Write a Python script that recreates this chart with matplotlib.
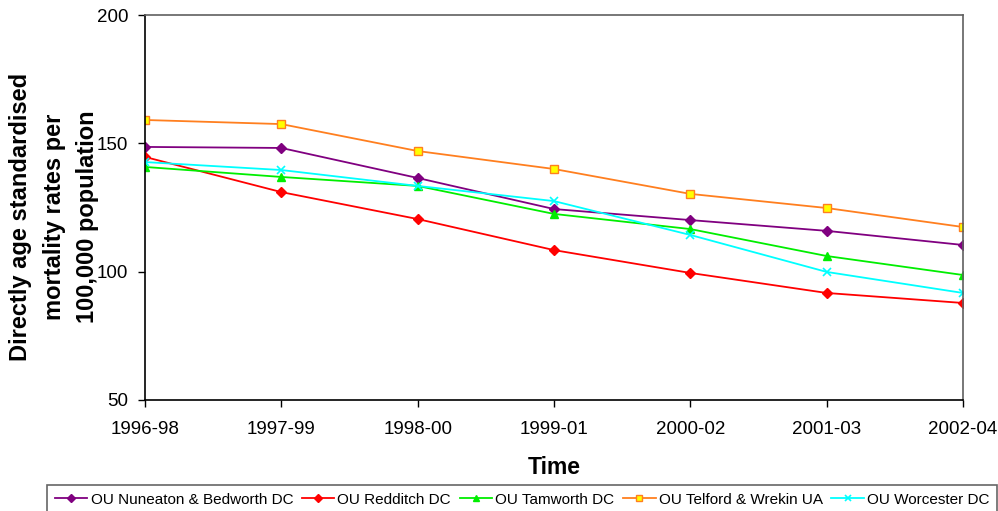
import matplotlib
matplotlib.use("Agg")
import matplotlib.pyplot as plt

plt.rcParams['font.family'] = ['Liberation Sans', 'DejaVu Sans']

periods = ["1996-98", "1997-99", "1998-00", "1999-01", "2000-02", "2001-03", "2002-04"]
nuneaton = [148.6, 148.2, 136.5, 124.4, 120.1, 115.9, 110.4]
redditch = [144.7, 131.0, 120.5, 108.4, 99.5, 91.7, 87.8]
tamworth = [140.8, 136.9, 133.4, 122.5, 116.6, 106.1, 98.7]
telford = [159.1, 157.5, 147.0, 140.0, 130.3, 124.8, 117.4]
worcester = [142.7, 139.6, 133.4, 127.5, 114.3, 99.9, 91.7]

series = [
    ("OU Nuneaton & Bedworth DC", nuneaton, dict(color="#800080", marker="D", ms=5, mfc="#800080", mec="#800080")),
    ("OU Redditch DC", redditch, dict(color="#ff0000", marker="D", ms=5, mfc="#ff0000", mec="#ff0000")),
    ("OU Tamworth DC", tamworth, dict(color="#00ee00", marker="^", ms=6, mfc="#00ee00", mec="#00ee00")),
    ("OU Telford & Wrekin UA", telford, dict(color="#ff7f1f", marker="s", ms=5.5, mfc="#ffff00", mec="#ff7f1f", mew=1.0)),
    ("OU Worcester DC", worcester, dict(color="#00ffff", marker="x", ms=6, mec="#00ffff", mew=1.2)),
]

fig = plt.figure(figsize=(9.98, 5.11), dpi=100)
ax = fig.add_axes([145/998, 1 - 400/511, (963-145)/998, (400-15)/511])

x = list(range(len(periods)))
handles = []
for name, vals, st in series:
    h, = ax.plot(x, vals, lw=1.3, label=name, **st)
    handles.append(h)

ax.set_xlim(0, len(periods) - 1)
ax.set_ylim(50, 200)
ax.set_yticks([50, 100, 150, 200])
ax.set_xticks(x)
ax.set_xticklabels(periods)
ax.tick_params(axis='both', labelsize=13.5, direction='out', length=5, width=1, colors='black')
ax.tick_params(axis='x', pad=10)
ax.tick_params(axis='y', pad=7)
for s in ['top', 'right']:
    ax.spines[s].set_color('#606060')
    ax.spines[s].set_linewidth(1.2)
for s in ['left', 'bottom']:
    ax.spines[s].set_color('black')
    ax.spines[s].set_linewidth(1.2)

ax.set_xlabel("Time", fontsize=16.5, fontweight='bold', labelpad=13)
ax.set_ylabel("Directly age standardised\nmortality rates per\n100,000 population",
              fontsize=17, fontweight='bold', linespacing=1.6, va='center', ha='center')
ax.yaxis.set_label_coords((54 - 145) / 818, (400 - 217) / 385)

leg = fig.legend(handles=handles, loc='upper left', bbox_to_anchor=(47/998, 1 - 485/511),
                 ncol=5, fontsize=11, frameon=True, fancybox=False,
                 edgecolor='#404040', handlelength=2.15, handletextpad=0.2, columnspacing=0.55,
                 borderaxespad=0, borderpad=0.5, markerscale=0.8)
leg.get_frame().set_linewidth(1.2)

fig.savefig("out.png", dpi=100)
